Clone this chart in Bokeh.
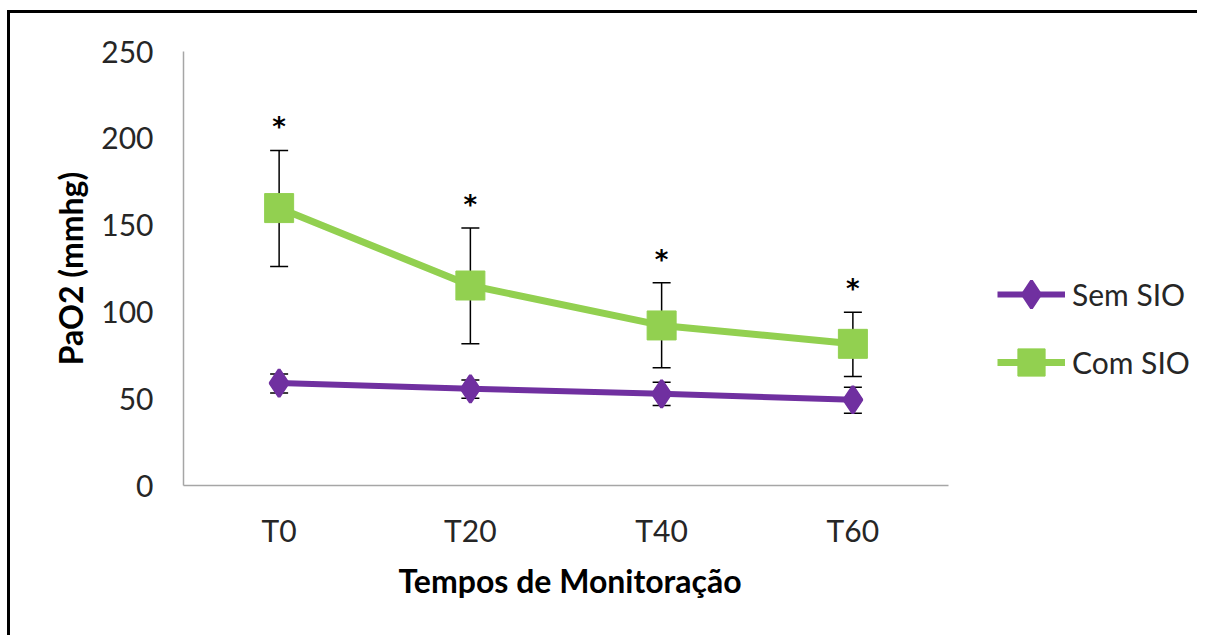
from bokeh.plotting import figure
from bokeh.models import (Range1d, Whisker, ColumnDataSource, FixedTicker,
                          Legend, LegendItem, TeeHead, Title)
from bokeh.core.properties import value
from bokeh.embed import file_html
from bokeh.resources import INLINE

# ---- data ----
times = ["T0", "T20", "T40", "T60"]
sem_mean = [59.0, 55.7, 52.8, 49.4]
sem_lower = [53.3, 50.2, 46.1, 41.6]
sem_upper = [64.3, 60.8, 59.5, 56.6]
com_mean = [159.8, 115.2, 92.2, 81.6]
com_lower = [126.2, 81.6, 67.8, 62.8]
com_upper = [193.0, 148.4, 116.8, 99.8]
signif = ["*", "*", "*", "*"]
y_ticks = [0, 50, 100, 150, 200, 250]

GREEN = "#92D050"
PURPLE = "#7030A0"
FONT = "Lato"

# category slots: each time point sits in the middle of its band
xs = [i + 0.5 for i in range(len(times))]
n = len(times)
# the frame also holds the legend area to the right of the category axis
x_end = n * 1017 / 765

sem_src = ColumnDataSource(dict(x=xs, y=sem_mean, lower=sem_lower, upper=sem_upper))
com_src = ColumnDataSource(dict(x=xs, y=com_mean, lower=com_lower, upper=com_upper, star=signif))

p = figure(width=1190, height=625, x_range=Range1d(0, x_end),
           y_range=Range1d(0, 250), output_backend="svg", toolbar_location=None,
           min_border_left=173, min_border_top=38, min_border_bottom=153,
           min_border_right=0)
p.styles = {"border-top": "3px solid black", "border-left": "3px solid black",
            "margin-left": "7px", "margin-top": "10px"}
p.outline_line_color = None
p.xgrid.grid_line_color = None
p.ygrid.grid_line_color = None
p.background_fill_color = "white"
p.border_fill_color = "white"

for ax in (p.xaxis[0], p.yaxis[0]):
    ax.axis_line_color = "#A6A6A6"
    ax.axis_line_width = 1.5
    ax.major_tick_line_color = None
    ax.minor_tick_line_color = None
    ax.major_tick_out = 0
    ax.major_tick_in = 0
    ax.major_label_text_font = FONT
    ax.major_label_text_font_size = "30px"
    ax.major_label_text_color = "#262626"
    ax.axis_label_text_font = FONT
    ax.axis_label_text_font_size = "32px"
    ax.axis_label_text_font_style = "bold"
    ax.axis_label_text_color = "#000000"

p.yaxis.ticker = y_ticks
p.yaxis.major_label_standoff = 30
p.yaxis.axis_label = "PaO2 (mmhg)"
p.yaxis.axis_label_standoff = 8

p.xaxis.ticker = FixedTicker(ticks=xs)
p.xaxis.major_label_overrides = {x: t for x, t in zip(xs, times)}
p.xaxis.bounds = (0, n)
p.xaxis.major_label_standoff = 26

xtitle = Title(text="Tempos de Monitoração", align="left", offset=215,
               text_font=FONT, text_font_size="32px", text_font_style="bold",
               text_color="#000000", standoff=16)
p.add_layout(xtitle, "below")

# error bars (behind the markers)
for src in (com_src, sem_src):
    w = Whisker(base="x", upper="upper", lower="lower", source=src,
                line_color="black", line_width=1.5,
                upper_head=TeeHead(size=18, line_color="black", line_width=1.5),
                lower_head=TeeHead(size=18, line_color="black", line_width=1.5))
    w.level = "underlay"
    p.add_layout(w)

sem_line = p.line("x", "y", source=sem_src, line_color=PURPLE, line_width=6)
sem_mark = p.scatter("x", "y", source=sem_src, marker="diamond", size=27,
                     fill_color=PURPLE, line_color=PURPLE, line_width=3)
com_line = p.line("x", "y", source=com_src, line_color=GREEN, line_width=7)
com_mark = p.scatter("x", "y", source=com_src, marker="square", size=29,
                     fill_color=GREEN, line_color=GREEN, line_width=1)

p.text(x="x", y="upper", text="star", source=com_src, y_offset=-23,
       text_align="center", text_baseline="alphabetic",
       text_font=value("DejaVu Sans"), text_font_size="26px",
       text_font_style="bold", text_color="black")

legend = Legend(items=[LegendItem(label="Sem SIO", renderers=[sem_line, sem_mark]),
                       LegendItem(label="Com SIO", renderers=[com_line, com_mark])],
                location=(814, 89), padding=0, margin=0, spacing=-6,
                glyph_width=68, glyph_height=68, label_standoff=7,
                border_line_color=None, background_fill_alpha=0,
                label_text_font=FONT, label_text_font_size="30px",
                label_text_color="#262626")
p.add_layout(legend, "center")

open("out.html", "w").write(file_html(p, INLINE))
